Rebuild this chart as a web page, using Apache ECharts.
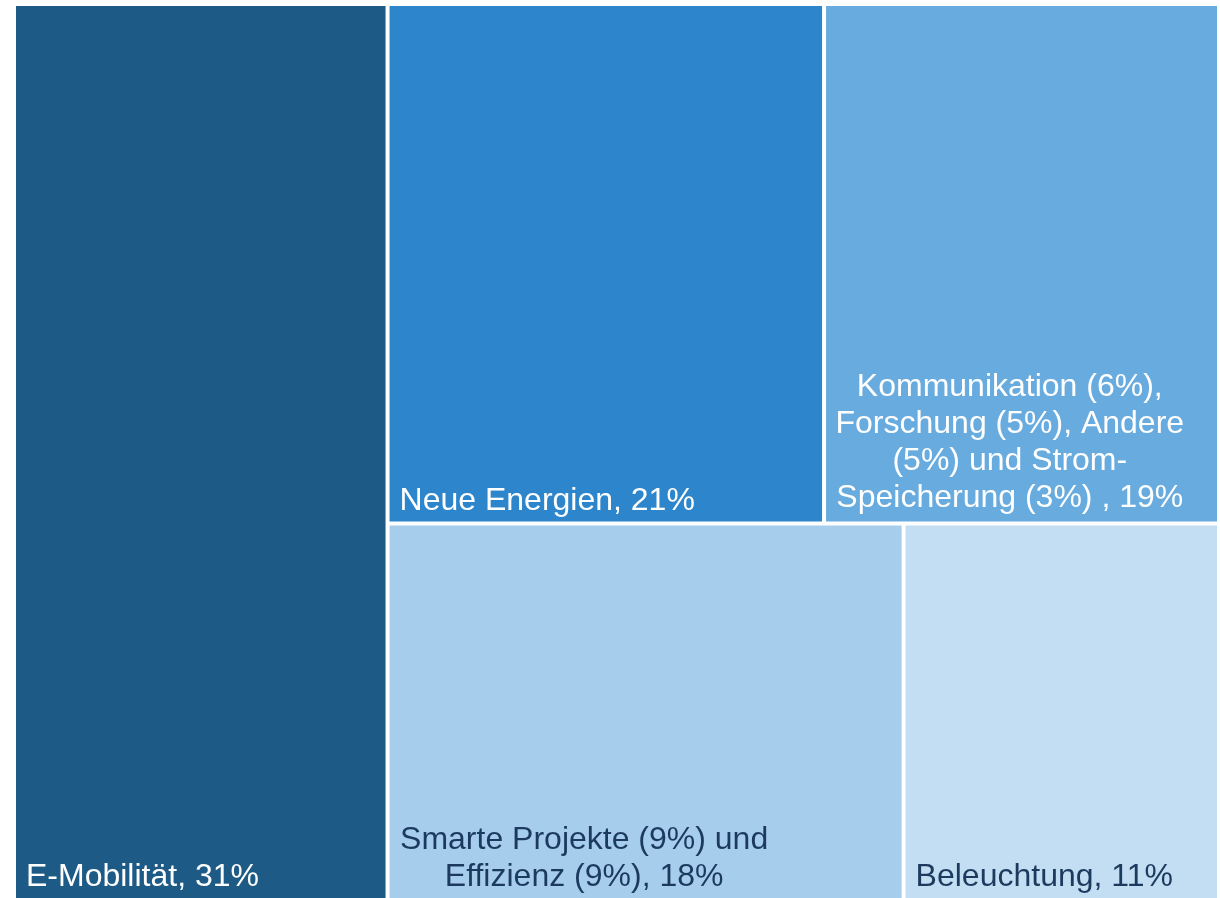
<!DOCTYPE html>
<html>
<head>
<meta charset="utf-8">
<script src="https://cdn.jsdelivr.net/npm/echarts@6/dist/echarts.min.js"></script>
<style>
    html, body { margin: 0; padding: 0; background: #fff; }
    #chart { width: 1220px; height: 898px; }
</style>
</head>
<body>
<div id="chart"></div>
<script>
// Anteile nach Bereich (Treemap)
var categories = [
    'E-Mobilität',
    'Neue Energien',
    'Kommunikation (6%),\nForschung (5%), Andere\n(5%) und Strom-\nSpeicherung (3%) ',
    'Smarte Projekte (9%) und\nEffizienz (9%)',
    'Beleuchtung'
];
var shares = [31, 21, 19, 18, 11];

var boxColors = ['#1e5a86', '#2d86cb', '#68abde', '#a7cded', '#c3def2'];
var darkText = '#1c3a5e';

// Beschriftung je Feld
function labelFor(i) {
    var base = {
        fontFamily: 'Liberation Sans',
        fontSize: 32,
        lineHeight: 37,
        padding: [5, 5, 2, 10],
        color: i < 3 ? '#ffffff' : darkText,
        position: 'insideBottomLeft',
        verticalAlign: 'bottom'
    };
    if (i === 2) {
        base.position = ['47%', '100%'];
        base.align = 'center';
        base.padding = [5, 5, 5, 5];
    }
    if (i === 3) {
        base.position = ['38%', '100%'];
        base.align = 'center';
        base.padding = [5, 5, 2, 5];
    }
    return base;
}

var treeData = categories.map(function (name, i) {
    return {
        name: name,
        value: shares[i],
        itemStyle: { color: boxColors[i] },
        label: labelFor(i)
    };
});

var chart = echarts.init(document.getElementById('chart'));
chart.setOption({
    animation: false,
    series: [{
        type: 'treemap',
        left: 16,
        top: 6,
        right: 3,
        bottom: 0,
        roam: false,
        nodeClick: false,
        breadcrumb: { show: false },
        squareRatio: 0.75,
        sort: false,
        label: {
            show: true,
            formatter: '{b}, {c}%'
        },
        levels: [
            { itemStyle: { gapWidth: 4, borderWidth: 0 } },
            { itemStyle: { borderWidth: 0, gapWidth: 0 } }
        ],
        data: treeData
    }]
});
</script>
</body>
</html>
